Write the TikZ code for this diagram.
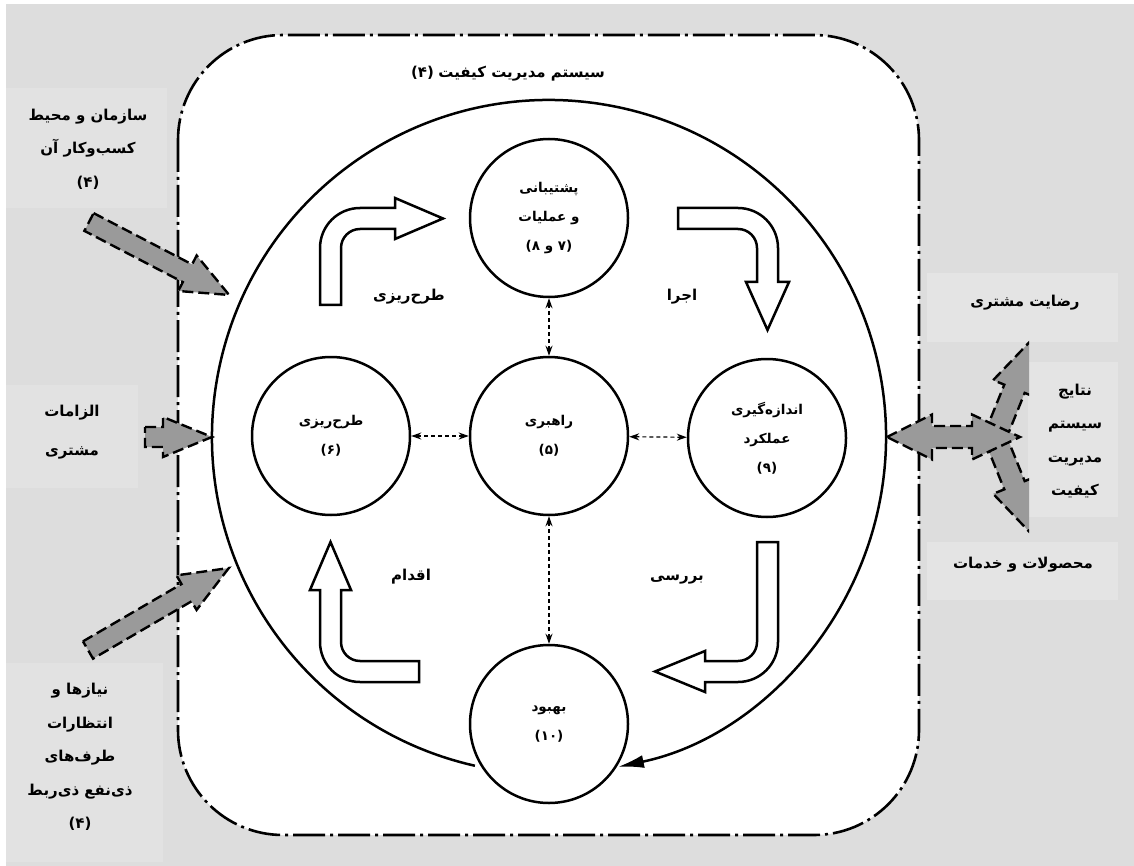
\documentclass[tikz,border=0pt]{standalone}
\usepackage{fontspec}
\usetikzlibrary{arrows.meta}
\TeXXeTstate=1
\newfontfamily\fa[Script=Arabic]{DejaVu Sans}
\newfontfamily\fanum{DejaVu Sans}
\newcommand\rtl[1]{{\fa\bfseries\beginR #1\endR}}
\newcommand\pnum[1]{{\fanum\bfseries #1}}
\definecolor{bgcol}{HTML}{DDDDDD}
\definecolor{boxLcol}{HTML}{E2E2E2}
\definecolor{boxRcol}{HTML}{E4E4E4}
\definecolor{arrowgray}{HTML}{9A9A9A}
\newcommand\garrow[7]{%
  \begin{scope}[shift={(#1,#2)},rotate=#3]
    \draw[garrowsty] (0,{-#5/2}) -- ({#4-#7},{-#5/2}) -- ({#4-#7},{-#6/2}) -- (#4,0)
      -- ({#4-#7},{#6/2}) -- ({#4-#7},{#5/2}) -- (0,{#5/2}) -- cycle;
  \end{scope}}
\begin{document}
\begin{tikzpicture}[x=1pt,y=-1pt,
  frame/.style={draw=black,fill=white,line width=2.6pt,rounded corners=105pt,
     dash pattern=on 32pt off 5pt on 3pt off 5pt},
  garrowsty/.style={draw=black,fill=arrowgray,line width=2.4pt,dash pattern=on 11pt off 5pt,line join=miter},
  wblock/.style={draw=black,fill=white,line width=2.5pt,line join=miter},
  circ/.style={circle,draw=black,line width=2.5pt,fill=white,minimum size=158pt,inner sep=0pt,
     align=center,font=\fontsize{13.5}{29}\selectfont},
  link/.style={line width=1.2pt,dash pattern=on 4pt off 3pt,{Stealth[length=10pt,width=7pt]}-{Stealth[length=10pt,width=7pt]}},
  bigarc/.style={line width=2.5pt,-{Latex[length=26pt,width=13pt]}},
  boxtext/.style={align=center,inner sep=0pt,font=\fontsize{15}{33.5}\selectfont},
  lbl/.style={inner sep=0pt,font=\fontsize{15}{20}\selectfont}]
\useasboundingbox (0,0) rectangle (1134,866);
\fill[white] (0,0) rectangle (1134,866);
\fill[bgcol] (6,4) rectangle (1134,866);
% text boxes
\fill[boxLcol] (6,88) rectangle (167,208);
\fill[boxLcol] (6,385) rectangle (138,488);
\fill[boxLcol] (6,663) rectangle (163,862);
\fill[boxRcol] (927,273) rectangle (1118,342);
\fill[boxRcol] (1028,362) rectangle (1118,517);
\fill[boxRcol] (927,542) rectangle (1118,600);
% outer frame
\draw[frame] (178,35) rectangle (919,835);
% big cycle
\draw[bigarc] (549,437) ++(102.7:337) arc[start angle=102.7,end angle=438.2,radius=337];
% gray input arrows
\garrow{89}{222}{-27.5}{158}{20}{40}{47}
\garrow{145}{437}{0}{67}{20}{40}{49}
\garrow{88}{650}{30.2}{163}{20}{40}{49}
% output arrows
\begin{scope}
  \clip (880,300) rectangle (1029,580);
  \garrow{995}{437}{68}{110}{22}{46}{58}
  \garrow{995}{437}{-68}{110}{22}{46}{58}
\end{scope}
\draw[garrowsty] (887,437) -- (932,414.5) -- (932,426) -- (972,426) -- (972,414.5) -- (1020,437)
  -- (972,459.5) -- (972,448) -- (932,448) -- (932,459.5) -- cycle;
% white PDCA arrows
\draw[wblock] (320,305) -- (320,248) arc[start angle=180,end angle=270,radius=40] -- (395,208)
  -- (395,198) -- (443,218.5) -- (395,239) -- (395,229) -- (360,229)
  arc[start angle=270,end angle=180,radius=19] -- (341,305) -- cycle;
\draw[wblock] (678,208) -- (738,208) arc[start angle=270,end angle=360,radius=40] -- (778,282)
  -- (789,282) -- (767.5,330) -- (746,282) -- (757,282) -- (757,248)
  arc[start angle=0,end angle=-90,radius=19] -- (678,229) -- cycle;
\draw[wblock] (757,542) -- (778,542) -- (778,642) arc[start angle=0,end angle=90,radius=40]
  -- (705,682) -- (705,692) -- (655,671.5) -- (705,651) -- (705,661) -- (738,661)
  arc[start angle=90,end angle=0,radius=19] -- cycle;
\draw[wblock] (419,661) -- (419,682) -- (360,682) arc[start angle=90,end angle=180,radius=40]
  -- (320,590) -- (310,590) -- (330.5,542) -- (351,590) -- (341,590) -- (341,642)
  arc[start angle=180,end angle=90,radius=19] -- cycle;
% circles
\node[circ] (sup) at (549,218) {\rtl{پشتیبانی}\\\rtl{و عملیات}\\\pnum{(۸ و ۷)}};
\node[circ] (plan) at (331,436) {\rtl{طرح‌ریزی}\\\pnum{(۶)}};
\node[circ] (lead) at (549,436) {\rtl{راهبری}\\\pnum{(۵)}};
\node[circ] (meas) at (767,438) {\rtl{اندازه‌گیری}\\\rtl{عملکرد}\\\pnum{(۹)}};
\node[circ] (imp) at (549,724) {\rtl{بهبود}\\\pnum{(۱۰)}};
\draw[link] (sup) -- (lead);
\draw[link] (lead) -- (imp);
\draw[link] (plan) -- (lead);
\draw[link] (lead) -- (meas);
% labels
\node[lbl] (title) at (508,74) {\pnum{(۴)}\ \rtl{سیستم مدیریت کیفیت}};
\node[lbl] (lp) at (409,297) {\rtl{طرح‌ریزی}};
\node[lbl] (ld) at (682,297) {\rtl{اجرا}};
\node[lbl] (la) at (411,577) {\rtl{اقدام}};
\node[lbl] (lc) at (677,580) {\rtl{بررسی}};
% box texts
\node[boxtext] (t1) at (88,149) {\rtl{سازمان و محیط}\\\rtl{کسب‌وکار آن}\\\pnum{(۴)}};
\node[boxtext] (t2) at (72,432) {\rtl{الزامات}\\[6pt]\rtl{مشتری}};
\node[boxtext] (t3) at (80,757) {\rtl{نیازها و}\\\rtl{انتظارات}\\\rtl{طرف‌های}\\\rtl{ذی‌نفع ذی‌ربط}\\\pnum{(۴)}};
\node[boxtext] (t4) at (1025,303) {\rtl{رضایت مشتری}};
\node[boxtext] (t5) at (1075,441) {\rtl{نتایج}\\\rtl{سیستم}\\\rtl{مدیریت}\\\rtl{کیفیت}};
\node[boxtext] (t6) at (1023,565) {\rtl{محصولات و خدمات}};
\end{tikzpicture}
\end{document}
